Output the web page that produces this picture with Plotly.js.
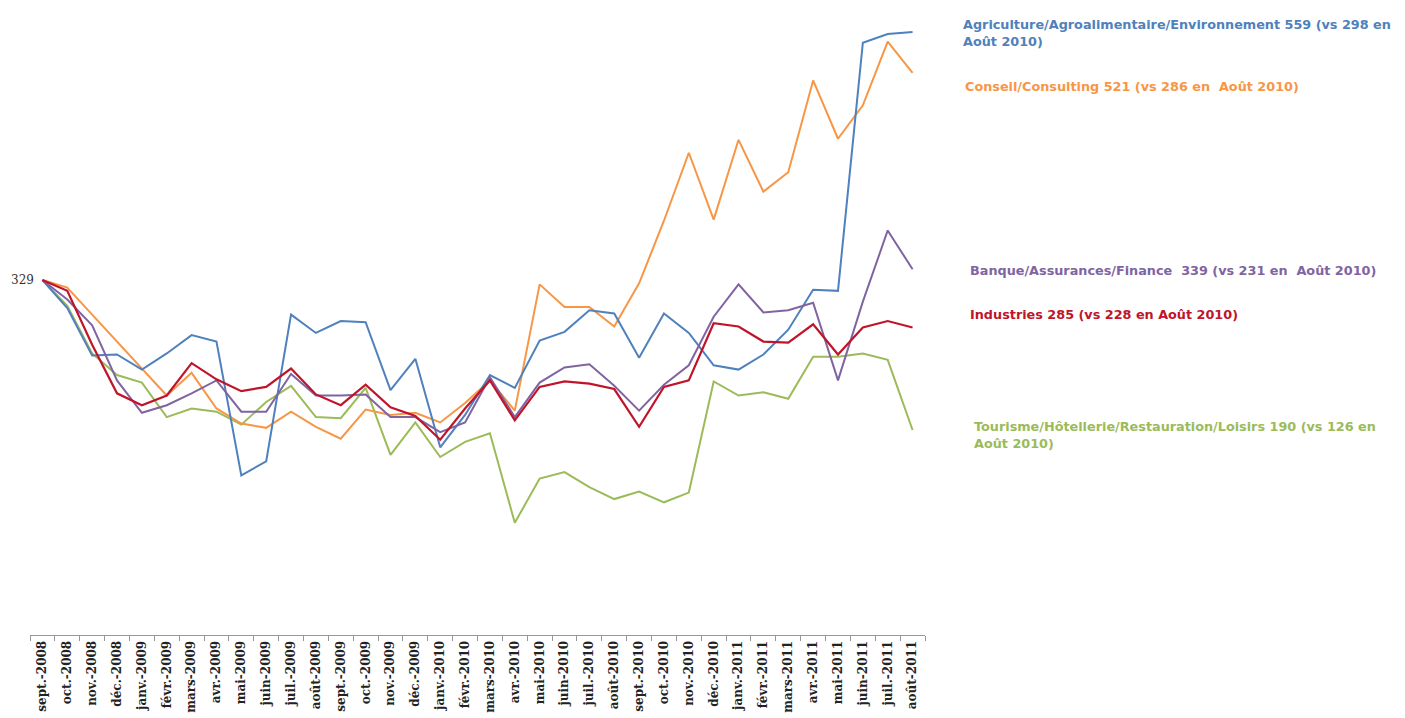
<!DOCTYPE html>
<html>
<head>
<meta charset="utf-8">
<script src="https://cdn.plot.ly/plotly-3.0.1.min.js"></script>
<style>html,body{margin:0;padding:0;background:#fff;}#chart{width:1405px;height:718px;}</style>
</head>
<body>
<div id="chart"></div>
<script>
const months = ["sept.-2008","oct.-2008","nov.-2008","déc.-2008","janv.-2009","févr.-2009","mars-2009","avr.-2009","mai-2009","juin-2009","juil.-2009","août-2009","sept.-2009","oct.-2009","nov.-2009","déc.-2009","janv.-2010","févr.-2010","mars-2010","avr.-2010","mai-2010","juin-2010","juil.-2010","août-2010","sept.-2010","oct.-2010","nov.-2010","déc.-2010","janv.-2011","févr.-2011","mars-2011","avr.-2011","mai-2011","juin-2011","juil.-2011","août-2011"];

const agriculture = [329,303,259,260,246,261,278,272,148,161,297,280,291,290,227,256,174,204,241,229,273,281,301,298,257,298,280,250,246,260,283,320,319,549,557,559];
const conseil     = [329,322,297,272,247,222,243,210,196,192,207,193,182,209,204,206,197,215,236,208,325,304,304,286,326,384,447,385,459,411,429,514,460,491,550,521];
const banque      = [329,311,287,236,206,213,224,236,207,207,242,222,222,223,202,202,188,197,239,202,234,248,251,231,208,232,250,295,325,299,301,308,236,309,375,339];
const industries  = [329,319,269,224,213,222,252,237,226,230,247,223,213,232,211,203,181,210,236,199,230,235,233,228,193,230,236,289,286,272,271,288,260,285,291,285];
const tourisme    = [329,305,261,241,234,202,210,207,195,216,231,202,201,229,167,197,165,179,187,104,145,151,137,126,133,123,132,235,222,225,219,258,258,261,255,190];

const startLabel = "329";
const seriesNames = [
  "Agriculture/Agroalimentaire/Environnement 559 (vs 298 en<br>Août 2010)",
  "Conseil/Consulting 521 (vs 286 en  Août 2010)",
  "Banque/Assurances/Finance  339 (vs 231 en  Août 2010)",
  "Industries 285 (vs 228 en Août 2010)",
  "Tourisme/Hôtellerie/Restauration/Loisirs 190 (vs 126 en<br>Août 2010)"
];

const colors = {agri:"#4F81BD", conseil:"#F79646", banque:"#8064A2", ind:"#C0142A", tour:"#9BBB59"};

function tr(y, c, w){ return {x: months, y: y, type:"scatter", mode:"lines", line:{color:c, width:w}, hoverinfo:"skip", cliponaxis:false}; }

const data = [
  tr(tourisme, colors.tour, 2),
  tr(conseil, colors.conseil, 2),
  tr(agriculture, colors.agri, 2),
  tr(banque, colors.banque, 2),
  tr(industries, colors.ind, 2.2)
];

const labFont = (c)=>({family:"DejaVu Sans", size:12.8, color:c, weight:"bold"});
const annotations = [
  {xref:"paper", yref:"paper", x:1.0397, y:1 - 15/635, xanchor:"left", yanchor:"top", align:"left", showarrow:false, text:seriesNames[0], font:labFont("#4F81BD")},
  {xref:"paper", yref:"paper", x:1.0430, y:1 - 77/635, xanchor:"left", yanchor:"top", align:"left", showarrow:false, text:seriesNames[1], font:labFont("#F79646")},
  {xref:"paper", yref:"paper", x:1.0475, y:1 - 261/635, xanchor:"left", yanchor:"top", align:"left", showarrow:false, text:seriesNames[2], font:labFont("#8064A2")},
  {xref:"paper", yref:"paper", x:1.0486, y:1 - 305/635, xanchor:"left", yanchor:"top", align:"left", showarrow:false, text:seriesNames[3], font:labFont("#C0142A")},
  {xref:"paper", yref:"paper", x:1.0520, y:1 - 417/635, xanchor:"left", yanchor:"top", align:"left", showarrow:false, text:seriesNames[4], font:labFont("#9BBB59")},
  {x: months[0], y: agriculture[0], xref:"x", yref:"y", xanchor:"right", yanchor:"middle", xshift:-6, showarrow:false, text:startLabel, font:{family:"DejaVu Serif", size:12, color:"#333"}}
];

const layout = {
  width:1405, height:718,
  margin:{l:30, r:480, t:0, b:83, pad:0},
  paper_bgcolor:"#fff", plot_bgcolor:"#fff",
  showlegend:false,
  xaxis:{
    type:"category", showgrid:false, zeroline:false,
    showline:true, linecolor:"#999", linewidth:1,
    ticks:"outside", ticklen:5, tickcolor:"#999", tickson:"boundaries",
    tickangle:-90, tickfont:{family:"DejaVu Serif", size:12, color:"#222", weight:"bold"},
    range:[-0.5, 35.5]
  },
  yaxis:{
    range:[0, 588.6], showgrid:false, zeroline:false, showline:false,
    showticklabels:false, ticks:""
  },
  annotations: annotations
};

Plotly.newPlot("chart", data, layout, {staticPlot:true});
</script>
</body>
</html>
